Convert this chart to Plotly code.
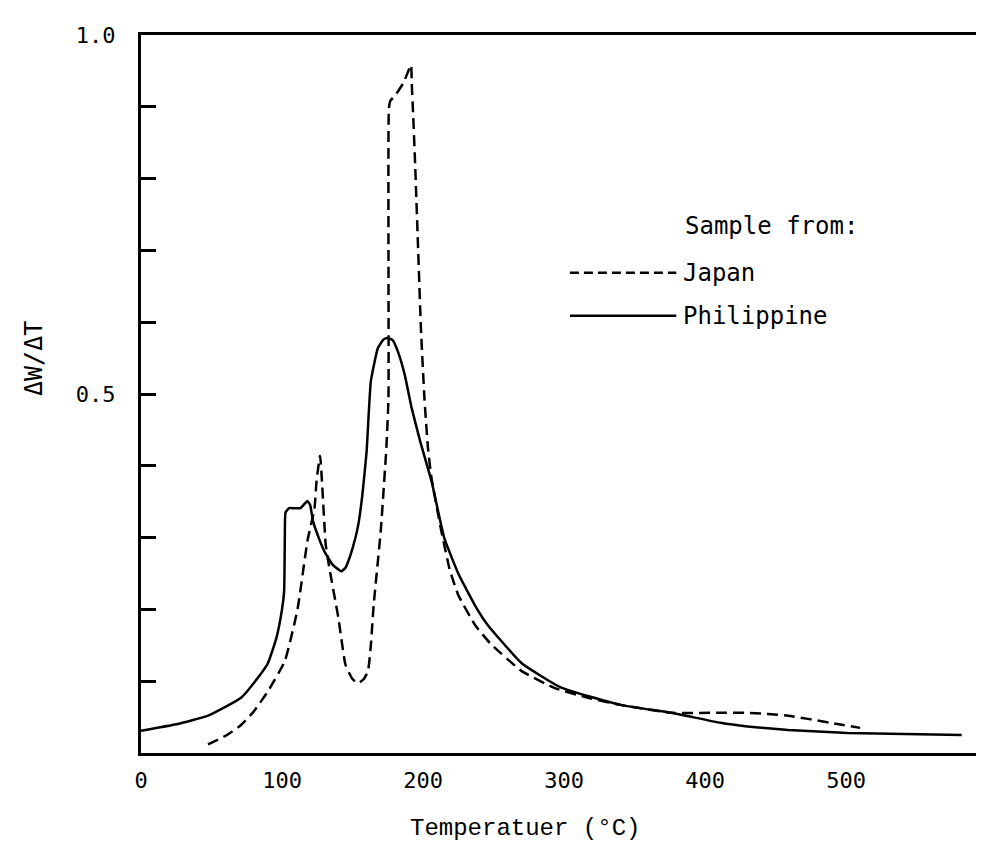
import plotly.graph_objects as go

# ---- data ----
japan_T = [47.5, 60, 71, 80, 90, 102, 111, 118, 123, 124.5, 127, 131, 134, 140, 145, 150,
           154, 158, 161, 163, 165, 170, 174, 175.5, 175.5, 175.8, 177, 180, 186, 191.5, 192,
           193, 194.5, 196.5, 198.5, 201, 203.5, 206, 213, 219, 225, 237, 248, 270, 294, 317,
           340, 376, 411, 430, 459, 489, 510]
japan_v = [0.012, 0.024, 0.039, 0.058, 0.086, 0.128, 0.20, 0.295, 0.34, 0.379, 0.414, 0.29,
           0.253, 0.188, 0.123, 0.103, 0.097, 0.103, 0.114, 0.15, 0.206, 0.309, 0.425, 0.494,
           0.70, 0.898, 0.909, 0.915, 0.933, 0.958, 0.933, 0.889, 0.815, 0.703, 0.592, 0.494,
           0.425, 0.383, 0.309, 0.255, 0.22, 0.178, 0.152, 0.114, 0.090, 0.077, 0.067, 0.056,
           0.056, 0.056, 0.052, 0.042, 0.035]

phil_T = [0, 25, 47.5, 71, 83, 90, 96, 100, 101.5, 102, 102.5, 105, 113, 118, 120, 122, 126,
          130, 136, 142, 145, 147, 150, 154, 157, 160, 163, 168, 172, 175, 178.5, 182, 187,
          192, 198, 206, 215, 225, 237, 246, 270, 298, 340, 376, 411, 430, 459, 501, 582]
phil_v = [0.031, 0.040, 0.052, 0.077, 0.105, 0.125, 0.16, 0.20, 0.225, 0.30, 0.335, 0.341,
          0.341, 0.351, 0.345, 0.323, 0.30, 0.281, 0.262, 0.253, 0.258, 0.267, 0.285, 0.317,
          0.36, 0.42, 0.518, 0.564, 0.576, 0.578, 0.575, 0.56, 0.527, 0.48, 0.434, 0.379,
          0.30, 0.25, 0.205, 0.178, 0.125, 0.091, 0.067, 0.056, 0.042, 0.037, 0.032, 0.028,
          0.025]

x_ticks = [0, 100, 200, 300, 400, 500]
x_ticktext = ["0", "100", "200", "300", "400", "500"]
y_ticks = [0.1, 0.2, 0.3, 0.4, 0.5, 0.6, 0.7, 0.8, 0.9, 1.0]
y_ticktext = ["", "", "", "", "0.5", "", "", "", "", "1.0"]

series_names = ["Japan", "Philippine"]
legend_title = "Sample from:"
x_title = "Temperatuer (°C)"
y_title = "ΔW/ΔT"

MONO = "DejaVu Sans Mono"
COURIER = "Liberation Mono"

fig = go.Figure()
fig.add_trace(go.Scatter(x=japan_T, y=japan_v, mode="lines", name=series_names[0],
                         line=dict(color="black", width=2.5, dash="11px,6px",
                                   shape="spline", smoothing=0.4)))
fig.add_trace(go.Scatter(x=phil_T, y=phil_v, mode="lines", name=series_names[1],
                         line=dict(color="black", width=2.5, shape="spline", smoothing=0.4)))

fig.update_layout(
    width=984, height=858,
    margin=dict(l=133, r=0, t=27, b=113),
    paper_bgcolor="white", plot_bgcolor="white",
    showlegend=False,
    font=dict(family=MONO, color="black", size=22),
)
fig.update_xaxes(range=[0, 603.5], showline=True, mirror=True, linewidth=3, linecolor="black",
                 showgrid=False, zeroline=False, ticks="", tickvals=x_ticks,
                 ticktext=x_ticktext, tickfont=dict(family=MONO, size=22),
                 ticklabelstandoff=6)
fig.update_yaxes(range=[0, 1.0], showline=True, mirror=False, linewidth=3, linecolor="black",
                 showgrid=False, zeroline=False, ticks="inside", ticklen=15, tickwidth=3,
                 tickcolor="black", tickvals=y_ticks, ticktext=y_ticktext,
                 tickfont=dict(family=MONO, size=22), ticklabelstandoff=18)

# axis titles
fig.add_annotation(text=y_title, textangle=-90, xref="paper", yref="paper",
                   x=-0.127, y=0.55, showarrow=False, xanchor="center", yanchor="middle",
                   font=dict(family=MONO, size=25, color="black"))
fig.add_annotation(text=x_title, xref="paper", yref="paper", x=0.451, y=-0.105,
                   showarrow=False, xanchor="center", yanchor="middle",
                   font=dict(family=COURIER, size=24, color="black"))

# hand-drawn style legend
fig.add_annotation(text=legend_title, xref="paper", yref="paper", x=0.637, y=0.734,
                   showarrow=False, xanchor="left", yanchor="middle",
                   font=dict(family=MONO, size=24, color="black"))
leg_rows = [(0.669, "9px,5px"), (0.609, "solid")]
for name, (yy, dash) in zip(series_names, leg_rows):
    fig.add_shape(type="line", xref="paper", yref="paper", x0=0.504, x1=0.629, y0=yy, y1=yy,
                  line=dict(color="black", width=2.5, dash=dash))
    fig.add_annotation(text=name, xref="paper", yref="paper", x=0.635, y=yy,
                       showarrow=False, xanchor="left", yanchor="middle",
                       font=dict(family=MONO, size=24, color="black"))

fig.write_html("out.html")
